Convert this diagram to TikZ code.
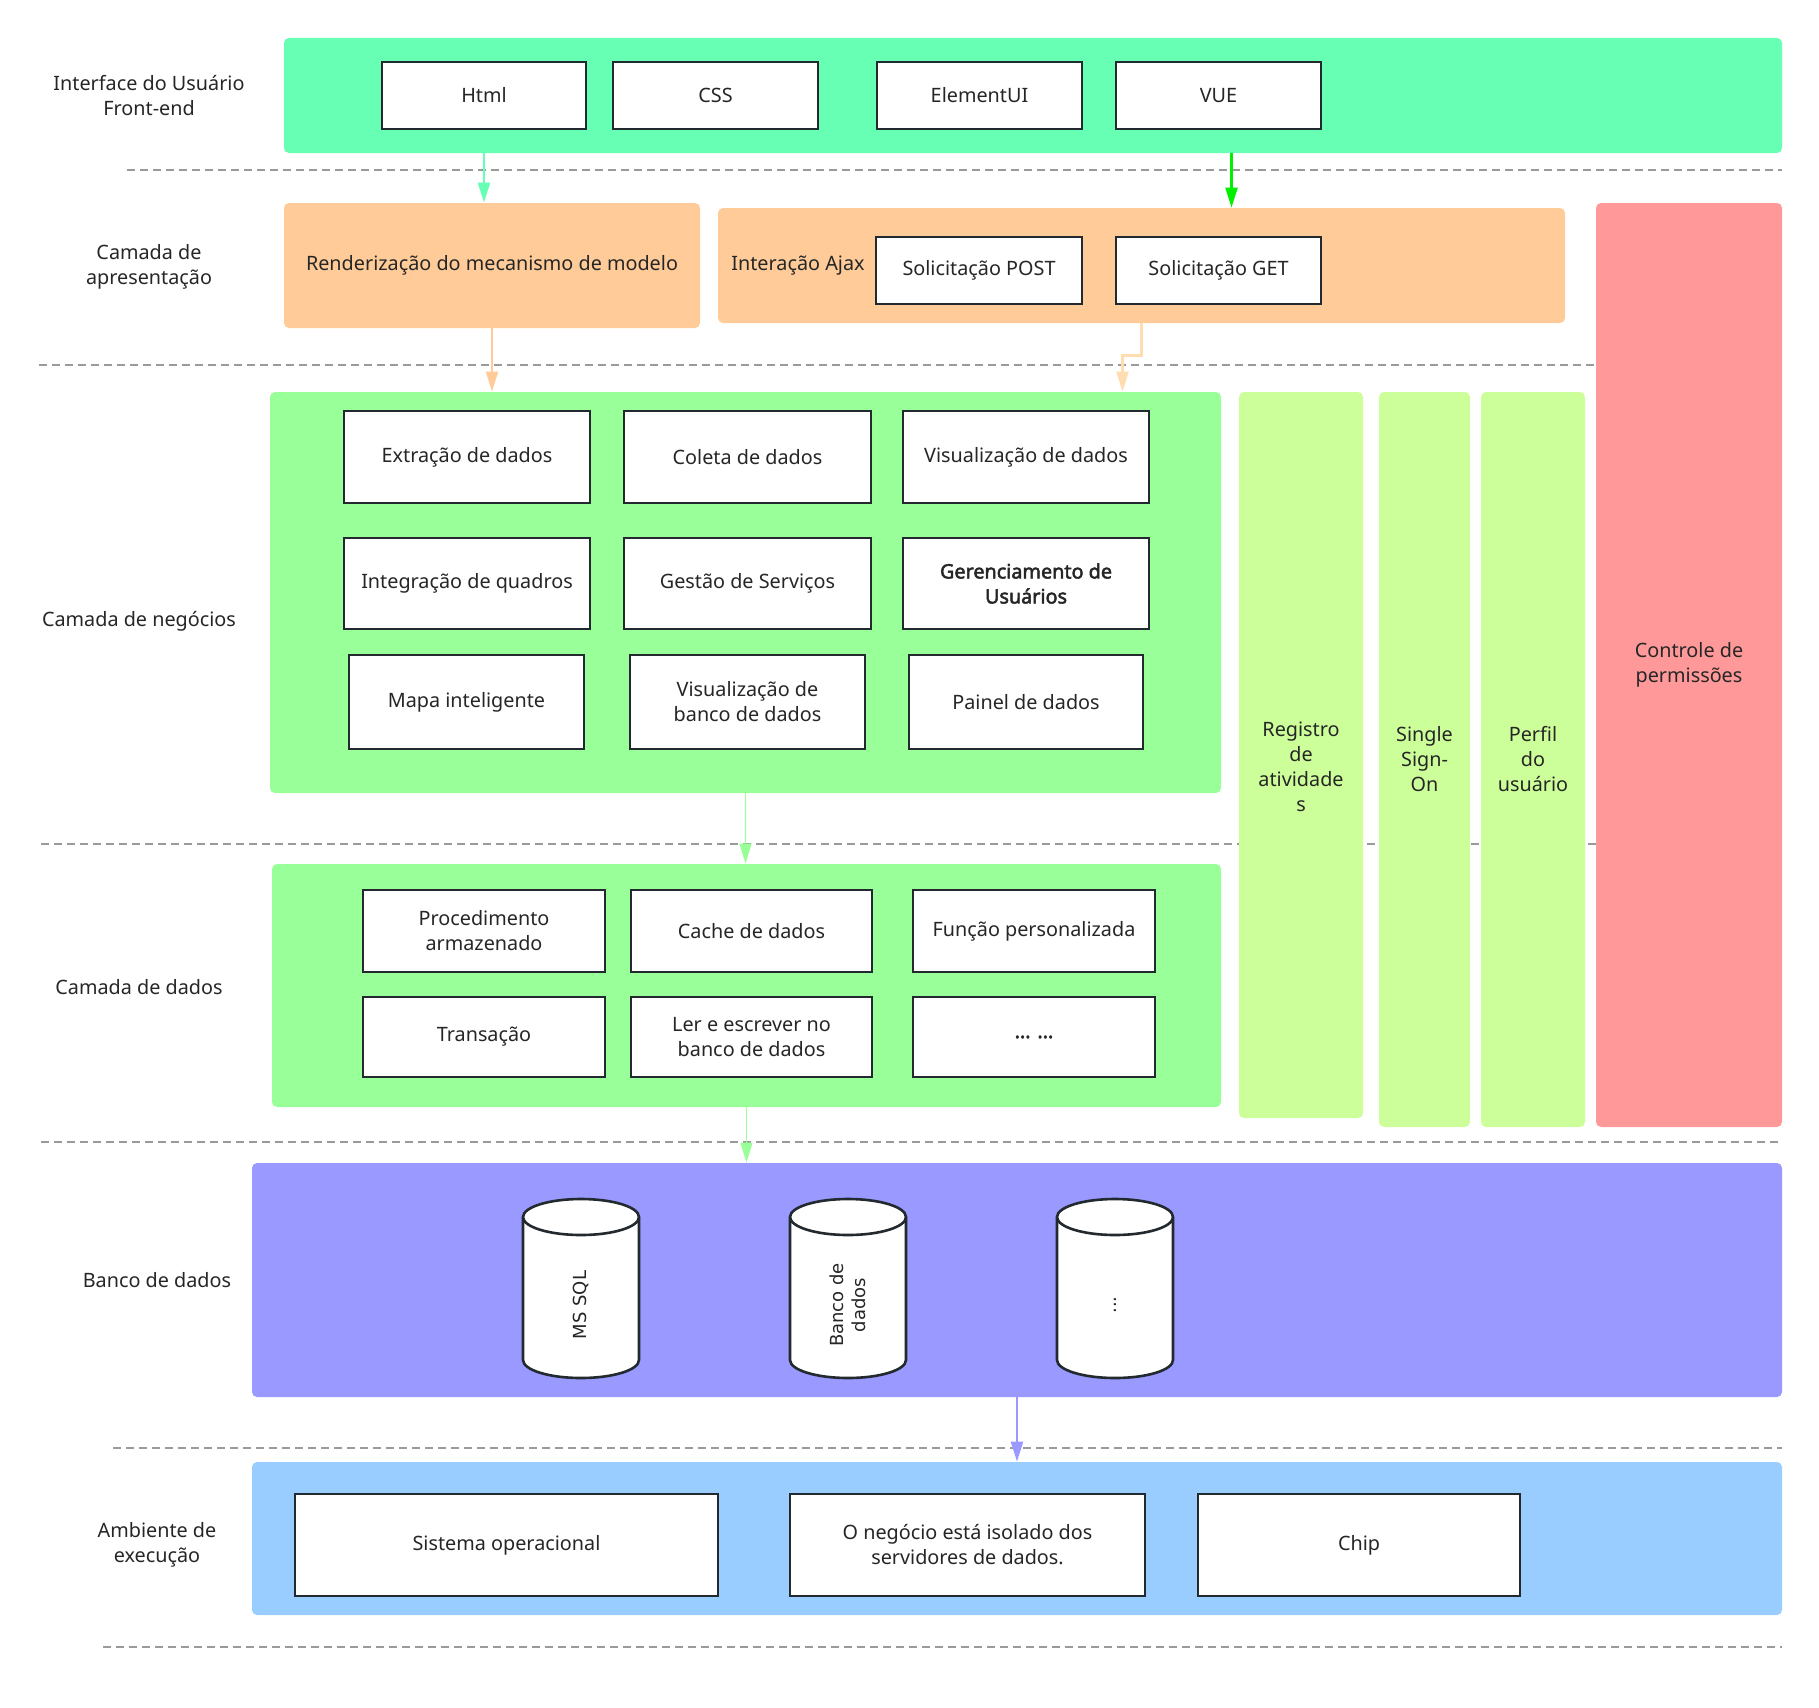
\documentclass[tikz,border=0pt]{standalone}
\usepackage{fontspec}
\setmainfont{Noto Sans}[AutoFakeBold=2.5]
\newfontfamily\dejavu{DejaVu Sans}
\usetikzlibrary{arrows.meta,calc}
\definecolor{cUI}{HTML}{66FFB3}
\definecolor{cOrange}{HTML}{FFCC99}
\definecolor{cOrangeL}{HTML}{FFDDB0}
\definecolor{cBiz}{HTML}{99FF99}
\definecolor{cCol}{HTML}{CCFF99}
\definecolor{cRed}{HTML}{FF9999}
\definecolor{cDB}{HTML}{9999FF}
\definecolor{cRT}{HTML}{99CCFF}
\definecolor{cBorder}{HTML}{222A30}
\definecolor{cText}{HTML}{262626}
\definecolor{cDash}{HTML}{9A9A9A}
\definecolor{cGreenA}{HTML}{00F000}
\newcommand{\boxnode}[7]{%
  \pgfmathsetmacro\bxcx{(#3+#5)/2}\pgfmathsetmacro\bxcy{(#4+#6)/2}%
  \pgfmathsetmacro\bxw{(#5-#3)*0.5}\pgfmathsetmacro\bxh{(#6-#4)*0.5}%
  \node[#1, minimum width=\bxw pt, minimum height=\bxh pt] (#2) at (\bxcx,\bxcy) {#7};}
\newcommand{\cyl}[5]{% name, cx, top, bottom, text
  \pgfmathsetmacro\cyA{#2-58}\pgfmathsetmacro\cyB{#2+58}%
  \pgfmathsetmacro\cyT{#3+18}\pgfmathsetmacro\cyU{#4-18}%
  \draw[cylline] (\cyA,\cyT) -- (\cyA,\cyU) arc[start angle=180,end angle=360,x radius=29pt,y radius=9pt]
     -- (\cyB,\cyT) arc[start angle=0,end angle=180,x radius=29pt,y radius=9pt] -- cycle;
  \draw[cylline] (\cyA,\cyT) arc[start angle=180,end angle=360,x radius=29pt,y radius=9pt];
  \node[cyltext] (#1) at (#2,1305) {#5};}
\begin{document}
\begin{tikzpicture}[x=0.5pt,y=-0.5pt,
  txt/.style={text=cText,font=\fontsize{9.9}{12.5}\selectfont,align=center},
  band/.style={fill=#1,draw=none,rounded corners=2.5pt,inner sep=0pt,txt},
  wbox/.style={draw=cBorder,line width=1.3pt,fill=white,inner sep=2pt,txt},
  lbl/.style={txt},
  dline/.style={draw=cDash,line width=1pt,dash pattern=on 4pt off 2.5pt},
  arr/.style={-{Triangle[length=10pt,width=6pt]},line width=#1},
  arr/.default=1pt,
  cylline/.style={draw=cBorder,line width=1.3pt,fill=white},
  cyltext/.style={rotate=90,text=cText,font=\dejavu\fontsize{9}{11}\selectfont,align=center}
]
\useasboundingbox (0,0) rectangle (1819,1707);
% dashed separators
\draw[dline] (127,170) -- (1782,170);
\draw[dline] (39,365) -- (1782,365);
\draw[dline] (41,844) -- (1782,844);
\draw[dline] (41,1142) -- (1782,1142);
\draw[dline] (113,1448) -- (1782,1448);
\draw[dline] (103,1647) -- (1782,1647);
% left labels
\node[lbl] (l1) at (149,96) {Interface do Usuário\\Front-end};
\node[lbl] (l2) at (149,267) {Camada de\\apresentação};
\node[lbl] (l3) at (139,621) {Camada de negócios};
\node[lbl] (l4) at (139,987) {Camada de dados};
\node[lbl] (l5) at (157,1280) {Banco de dados};
\node[lbl] (l6) at (157,1545) {Ambiente de\\execução};
% bands
\boxnode{band=cUI}{ui}{284}{38}{1782}{153}{}
\boxnode{band=cOrange}{render}{284}{203}{700}{328}{Renderização do mecanismo de modelo}
\boxnode{band=cOrange}{ajax}{718}{208}{1565}{323}{}
\boxnode{band=cRed}{perm}{1596}{203}{1782}{1127}{Controle de\\permissões}
\boxnode{band=cBiz}{biz}{270}{392}{1221}{793}{}
\boxnode{band=cCol}{col1}{1239}{392}{1363}{1118}{}
\node[txt] (col1t) at (1301,767) {Registro\\de\\atividade\\s};
\boxnode{band=cCol}{col2}{1379}{392}{1470}{1127}{Single\\Sign-\\On}
\boxnode{band=cCol}{col3}{1481}{392}{1585}{1127}{Perfil\\do\\usuário}
\boxnode{band=cBiz}{data}{272}{864}{1221}{1107}{}
\boxnode{band=cDB}{db}{252}{1163}{1782}{1397}{}
\boxnode{band=cRT}{rt}{252}{1462}{1782}{1615}{}
\node[lbl] (ajaxlbl) at (798,266) {Interação Ajax};
% UI boxes
\boxnode{wbox}{html}{382}{62}{586}{129}{Html}
\boxnode{wbox}{css}{613}{62}{818}{129}{CSS}
\boxnode{wbox}{elem}{877}{62}{1082}{129}{ElementUI}
\boxnode{wbox}{vue}{1116}{62}{1321}{129}{VUE}
% presentation boxes
\boxnode{wbox}{post}{876}{237}{1082}{304}{Solicitação POST}
\boxnode{wbox}{get}{1116}{237}{1321}{304}{Solicitação GET}
% business boxes
\boxnode{wbox}{ext}{344}{411}{590}{503}{Extração de dados}
\boxnode{wbox}{col}{624}{411}{871}{503}{Coleta de dados}
\boxnode{wbox}{vis}{903}{411}{1149}{503}{Visualização de dados}
\boxnode{wbox}{integ}{344}{538}{590}{629}{Integração de quadros}
\boxnode{wbox}{gest}{624}{538}{871}{629}{Gestão de Serviços}
\boxnode{wbox}{ger}{903}{538}{1149}{629}{\textbf{Gerenciamento de}\\\textbf{Usuários}}
\boxnode{wbox}{mapa}{349}{655}{584}{749}{Mapa inteligente}
\boxnode{wbox}{visb}{630}{655}{865}{749}{Visualização de\\banco de dados}
\boxnode{wbox}{painel}{909}{655}{1143}{749}{Painel de dados}
% data boxes
\boxnode{wbox}{proc}{363}{890}{605}{972}{Procedimento\\armazenado}
\boxnode{wbox}{cache}{631}{890}{872}{972}{Cache de dados}
\boxnode{wbox}{func}{913}{890}{1155}{972}{Função personalizada}
\boxnode{wbox}{trans}{363}{997}{605}{1077}{Transação}
\boxnode{wbox}{ler}{631}{997}{872}{1077}{Ler e escrever no\\banco de dados}
\boxnode{wbox}{etc}{913}{997}{1155}{1077}{\textbf{... ...}}
% cylinders
\cyl{mssql}{581}{1199}{1378}{MS SQL}
\cyl{bdd}{848}{1199}{1378}{Banco de\\dados}
\cyl{dots}{1115}{1199}{1378}{...}
% runtime boxes
\boxnode{wbox}{so}{295}{1494}{718}{1596}{Sistema operacional}
\boxnode{wbox}{neg}{790}{1494}{1145}{1596}{O negócio está isolado dos\\servidores de dados.}
\boxnode{wbox}{chip}{1198}{1494}{1520}{1596}{Chip}
% arrows
\draw[arr=1.2pt,draw=cUI] (html.south |- ui.south) -- (html.south |- render.north);
\draw[arr=1.2pt,draw=cGreenA] ($(vue.south |- ui.south)+(13,0)$) -- ($(vue.south |- ajax.north)+(13,0)$);
\draw[arr=1.2pt,draw=cOrange] (render.south) -- (render.south |- biz.north);
\draw[arr=1.2pt,draw=cOrangeL] (ajax.south) -- ++(0,32) -| ($(ajax.south |- biz.north)+(-19,0)$);
\draw[arr=0.8pt,draw=cBiz] (biz.south) -- (biz.south |- data.north);
\draw[arr=0.8pt,draw=cBiz] (data.south) -- (data.south |- db.north);
\draw[arr=1.2pt,draw=cDB] (db.south) -- (db.south |- rt.north);
\end{tikzpicture}
\end{document}
